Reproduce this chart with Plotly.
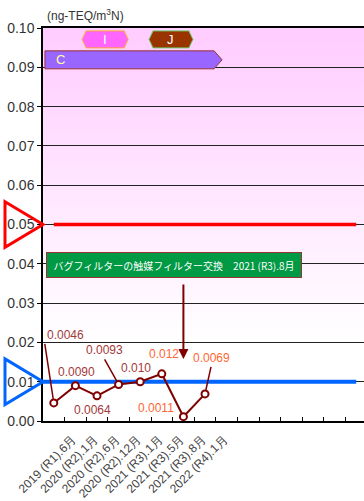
import plotly.graph_objects as go

# ---------------- data ----------------
categories = ["2019 (R1).6月", "2020 (R2).1月", "2020 (R2).6月", "2020 (R2).12月",
              "2021 (R3).1月", "2021 (R3).5月", "2021 (R3).8月", "2022 (R4).1月"]
values = [0.0046, 0.0090, 0.0064, 0.0093, 0.010, 0.012, 0.0011, 0.0069]
value_labels = ["0.0046", "0.0090", "0.0064", "0.0093", "0.010", "0.012", "0.0011", "0.0069"]
n_slots = 15
y_ticks = [0.00, 0.01, 0.02, 0.03, 0.04, 0.05, 0.06, 0.07, 0.08, 0.09, 0.10]
old_standard = 0.05
new_standard = 0.01
period_names = ["C", "I", "J"]
period_start = [-0.41, 1.31, 4.41]
period_end = [7.79, 3.44, 6.44]
period_level = [0.0919, 0.0971, 0.0971]
event_text = "バグフィルターの触媒フィルター交換　2021 (R3).8月"
event_index = 6
unit_text = "(ng-TEQ/m<sup>3</sup>N)"

# ---------------- styling ----------------
FONT = "Liberation Sans, Arial, sans-serif"
JFONT = "Noto Sans CJK JP, sans-serif"
DARK = "#800000"
x_range = [-0.5, 14.36]
y_range = [0.0, 0.10]

fig = go.Figure()

# background gradient (bottom subplot, drawn underneath the grid of the main subplot)
fig.add_trace(go.Scatter(
    x=[x_range[0], x_range[1], x_range[1], x_range[0]],
    y=[0.02, 0.02, y_range[1], y_range[1]],
    fill="toself", mode="lines", line=dict(width=0),
    fillgradient=dict(type="vertical", colorscale=[[0, "#FFFFFF"], [1, "#FFCCFF"]],
                      start=0.02, stop=y_range[1]),
    hoverinfo="skip", showlegend=False, xaxis="x", yaxis="y"))

# standard lines
fig.add_trace(go.Scatter(x=[0, n_slots - 1], y=[old_standard] * 2, mode="lines",
                         line=dict(color="#FF0000", width=3.3), showlegend=False,
                         xaxis="x2", yaxis="y2"))
fig.add_trace(go.Scatter(x=[-0.5, n_slots - 1], y=[new_standard] * 2, mode="lines",
                         line=dict(color="#0066FF", width=4), showlegend=False,
                         xaxis="x2", yaxis="y2"))

# data
fig.add_trace(go.Scatter(
    x=list(range(len(values))), y=values, mode="lines+markers",
    line=dict(color=DARK, width=2),
    marker=dict(symbol="circle", size=7, color="white", line=dict(color=DARK, width=2)),
    cliponaxis=False, showlegend=False, xaxis="x2", yaxis="y2"))

shapes = []
annotations = []

# period bars
for name, s, e, lvl in zip(period_names, period_start, period_end, period_level):
    if name == "C":
        h = 0.00229
        tip = 0.37
        path = (f"M {s},{lvl + h} L {e - tip},{lvl + h} L {e},{lvl} "
                f"L {e - tip},{lvl - h} L {s},{lvl - h} Z")
        fill, border = "#9966FF", "#993333"
        tx, tcol = s + 0.7, "#FFFF99"
    else:
        h = 0.00216
        tip = 0.185
        path = (f"M {s},{lvl} L {s + tip},{lvl + h} L {e - tip},{lvl + h} L {e},{lvl} "
                f"L {e - tip},{lvl - h} L {s + tip},{lvl - h} Z")
        if name == "I":
            fill, border = "#FF66FF", "#FFAA33"
        else:
            fill, border = "#993300", "#66CC66"
        tx, tcol = (s + e) / 2, "#FFFFFF"
    shapes.append(dict(type="path", path=path, xref="x2", yref="y2",
                       fillcolor=fill, line=dict(color=border, width=1), layer="above"))
    annotations.append(dict(x=tx, y=lvl, xref="x2", yref="y2", text=name, showarrow=False,
                            font=dict(family=FONT, size=13, color=tcol)))

# standard triangles in the left margin
for thr, col in [(old_standard, "#FF0000"), (new_standard, "#0066FF")]:
    hh = 0.0058
    shapes.append(dict(type="path", xref="paper", xsizemode="pixel", xanchor=0, yref="y2",
                       path=f"M -38,{thr + hh} L 0,{thr} L -38,{thr - hh} Z",
                       line=dict(color=col, width=3), fillcolor="rgba(0,0,0,0)", layer="above"))

# value labels
label_cfg = [
    dict(arrow=True, ax=-9, ay=-59, xanchor="left", yanchor="bottom"),
    dict(arrow=False, xs=1, ys=14),
    dict(arrow=False, xs=-5, ys=-14),
    dict(arrow=True, ax=-14, ay=-25, xanchor="center", yanchor="bottom"),
    dict(arrow=False, xs=-4, ys=14),
    dict(arrow=False, xs=2, ys=19.5),
    dict(arrow=False, xs=-27, ys=8.5),
    dict(arrow=True, ax=6, ay=-27, xanchor="center", yanchor="bottom"),
]
for i, (v, t, cfg) in enumerate(zip(values, value_labels, label_cfg)):
    col = "#A33A3A" if i < 5 else "#FF6633"
    base = dict(x=i, y=v, xref="x2", yref="y2", text=t,
                font=dict(family=FONT, size=12, color=col))
    if cfg["arrow"]:
        base.update(showarrow=True, arrowhead=0, arrowwidth=1.5, arrowcolor=DARK,
                    ax=cfg["ax"], ay=cfg["ay"], xanchor=cfg["xanchor"],
                    yanchor=cfg["yanchor"], standoff=4)
    else:
        base.update(showarrow=False, xshift=cfg["xs"], yshift=cfg["ys"])
    annotations.append(base)

# event box and arrow
annotations.append(dict(x=5.56, y=0.0397, xref="x2", yref="y2", text=event_text,
                        showarrow=False, bgcolor="#009944", bordercolor="#993333",
                        borderwidth=1, width=252, height=22,
                        font=dict(family=JFONT, size=10, color="white")))
annotations.append(dict(x=event_index, y=0.0158, xref="x2", yref="y2", text="",
                        showarrow=True, ax=0, ay=-76, arrowhead=2, arrowsize=1,
                        arrowwidth=2, arrowcolor=DARK))

# unit
annotations.append(dict(x=0, y=1, xref="paper", yref="paper", text=unit_text,
                        xanchor="left", yanchor="bottom", xshift=2, yshift=3,
                        showarrow=False, font=dict(family=FONT, size=12, color="#333")))

tickvals = [i + 0.5 for i in range(n_slots - 1)]
ticktext = categories + [""] * (n_slots - 1 - len(categories))

fig.update_layout(
    width=364, height=501,
    margin=dict(l=43, r=0, t=28, b=80, autoexpand=False),
    paper_bgcolor="white", plot_bgcolor="rgba(0,0,0,0)",
    font=dict(family=FONT, size=12, color="#333"),
    xaxis=dict(range=x_range, visible=False, domain=[0, 1], anchor="y", automargin=False),
    yaxis=dict(range=y_range, visible=False, domain=[0, 1], anchor="x", automargin=False),
    xaxis2=dict(range=x_range, domain=[0, 1], anchor="y2", showgrid=False, automargin=False,
                tickvals=tickvals, ticktext=ticktext, ticks="inside", ticklen=4,
                tickcolor="black", tickangle=-45, ticklabelshift=8, ticklabelstandoff=5,
                tickfont=dict(family=FONT, size=12, color="#444"),
                showline=True, linecolor="black", linewidth=1.5, mirror=True,
                zeroline=False),
    yaxis2=dict(range=y_range, domain=[0, 1], anchor="x2", tickvals=y_ticks, automargin=False,
                tickformat=".2f", ticks="outside", ticklen=4, tickcolor="black",
                showgrid=True, gridcolor="#222", gridwidth=1,
                showline=True, linecolor="black", linewidth=1.5, zeroline=False,
                tickfont=dict(family=FONT, size=14, color="#333")),
    shapes=shapes, annotations=annotations,
    showlegend=False,
)

fig.write_html(
    "out.html",
    config={"displayModeBar": False},
    post_script=("document.body.style.margin='0';"
                 "document.body.style.overflow='hidden';"
                 "document.documentElement.style.overflow='hidden';"),
)
